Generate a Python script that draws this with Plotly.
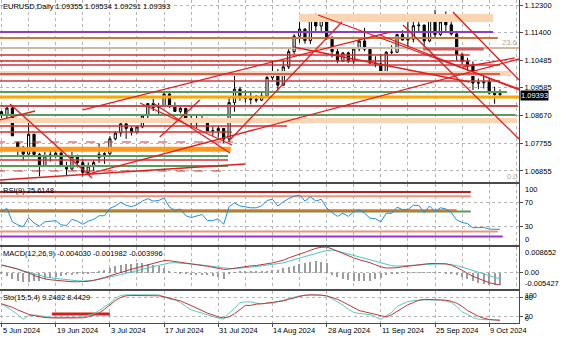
import plotly.graph_objects as go

W, H = 564, 338
FONT = "Liberation Sans"

# ---------------- price data (bar index 0 = 5 Jun 2024, last bar = 11 Oct 2024) ----------------
bar_start = -2
opens = [1.0848,1.0903,1.0880,1.0869,1.0892,1.0780,1.0764,1.0741,1.0806,1.0740,1.0703,1.0735,1.0738,1.0744,1.0700,1.0692,1.0733,1.0713,1.0681,1.0702,
         1.0730,1.0740,1.0742,1.0791,1.0810,1.0840,1.0825,1.0813,1.0830,1.0867,1.0907,1.0894,1.0900,1.0938,1.0898,1.0881,1.0891,1.0853,1.0844,1.0849,
         1.0857,1.0817,1.0818,1.0825,1.0790,1.0910,1.0954,1.0931,1.0923,1.0920,1.0918,1.0932,1.0992,1.1012,1.0967,1.1027,1.1077,1.1128,1.1151,1.1113,
         1.1192,1.1161,1.1184,1.1119,1.1077,1.1047,1.1073,1.1046,1.1086,1.1112,1.1085,1.1040,1.1037,1.1012,1.1075,1.1075,1.1133,1.1115,1.1118,1.1162,
         1.1164,1.1112,1.1180,1.1133,1.1175,1.1165,1.1135,1.1068,1.1045,1.1033,1.0974,1.0975,1.0978,1.0941,1.09355]
highs = [1.0905,1.0916,1.0883,1.0902,1.0900,1.0781,1.0767,1.0852,1.0808,1.0745,1.0748,1.0761,1.0752,1.0762,1.0716,1.0748,1.0739,1.0724,1.0714,1.0720,
         1.0776,1.0747,1.0800,1.0816,1.0845,1.0845,1.0831,1.0833,1.0871,1.0907,1.0922,1.0909,1.0948,1.0944,1.0911,1.0902,1.0892,1.0868,1.0869,1.0871,
         1.0860,1.0833,1.0833,1.0827,1.0926,1.1009,1.0962,1.0950,1.0948,1.0935,1.0945,1.1002,1.1047,1.1020,1.1049,1.1085,1.1134,1.1174,1.1154,1.1201,
         1.1202,1.1189,1.1188,1.1128,1.1087,1.1074,1.1077,1.1088,1.1120,1.1155,1.1086,1.1062,1.1070,1.1079,1.1098,1.1136,1.1147,1.1190,1.1179,1.1180,
         1.1166,1.1190,1.1214,1.1190,1.1209,1.1199,1.1145,1.1074,1.1057,1.1045,1.0989,1.0998,1.0988,1.0962,1.09534]
lows = [1.0845,1.0865,1.0857,1.0857,1.0800,1.0732,1.0720,1.0737,1.0732,1.0668,1.0702,1.0716,1.0729,1.0699,1.0671,1.0688,1.0697,1.0667,1.0677,1.0685,
        1.0712,1.0709,1.0736,1.0786,1.0798,1.0791,1.0802,1.0808,1.0826,1.0857,1.0882,1.0872,1.0896,1.0892,1.0880,1.0874,1.0842,1.0826,1.0825,1.0845,
        1.0816,1.0801,1.0795,1.0777,1.0779,1.0880,1.0916,1.0910,1.0904,1.0910,1.0915,1.0930,1.0982,1.0949,1.0964,1.1020,1.1069,1.1106,1.1103,1.1102,
        1.1139,1.1144,1.1117,1.1058,1.1039,1.1043,1.1040,1.1037,1.1078,1.1078,1.1036,1.1026,1.1002,1.1002,1.1068,1.1074,1.1114,1.1086,1.1107,1.1140,
        1.1083,1.1108,1.1122,1.1128,1.1143,1.1130,1.1047,1.1035,1.1002,1.0951,1.0954,1.0956,1.0936,1.0906,1.09291]
closes = [1.0903,1.0880,1.0869,1.0892,1.0801,1.0764,1.0741,1.0806,1.0740,1.0703,1.0735,1.0738,1.0744,1.0700,1.0692,1.0733,1.0713,1.0681,1.0702,1.0713,
          1.0740,1.0742,1.0791,1.0810,1.0840,1.0825,1.0813,1.0830,1.0867,1.0907,1.0894,1.0900,1.0938,1.0898,1.0881,1.0891,1.0853,1.0844,1.0849,1.0857,
          1.0817,1.0818,1.0825,1.0790,1.0910,1.0954,1.0931,1.0923,1.0920,1.0918,1.0932,1.0992,1.1012,1.0967,1.1027,1.1077,1.1128,1.1151,1.1113,1.1192,
          1.1161,1.1184,1.1119,1.1077,1.1047,1.1073,1.1046,1.1086,1.1112,1.1085,1.1040,1.1037,1.1012,1.1075,1.1075,1.1133,1.1115,1.1118,1.1162,1.1164,
          1.1112,1.1180,1.1133,1.1175,1.1165,1.1135,1.1068,1.1045,1.1033,1.0974,1.0975,1.0978,1.0941,1.0936,1.09393]
bars = list(range(bar_start, bar_start + len(closes)))

# ---------------- indicators (bar 0..92) ----------------
rsi = [55,60,38,33,30,45,36,31,38,39,40,33,32,42,39,34,39,42,48,48,
       60,64,70,65,63,66,72,76,72,73,77,62,57,59,48,45,47,50,40,40,
       43,34,63,69,64,62,61,61,64,73,75,64,71,76,80,82,72,79,72,75,
       61,53,47,52,47,54,58,52,44,43,38,52,52,62,58,58,65,65,53,64,
       55,61,59,53,41,37,35,28,28,29,26,25.2,25.6148]
macd_main = [0.00266,0.00222,0.00178,0.00122,0.00056,0.00000,-0.00090,-0.00160,-0.00205,-0.00233,-0.00255,-0.00266,-0.00289,-0.00300,-0.00300,-0.00300,-0.00285,-0.00255,-0.00215,-0.00160,
             -0.00100,-0.00040,0.00020,0.00070,0.00120,0.00170,0.00220,0.00280,0.00325,0.00370,0.00410,0.00405,0.00380,0.00360,0.00335,0.00310,0.00285,0.00255,0.00220,0.00185,
             0.00150,0.00115,0.00125,0.00155,0.00185,0.00215,0.00233,0.00244,0.00266,0.00289,0.00333,0.00377,0.00422,0.00500,0.00555,0.00611,0.00688,0.00755,0.00820,0.00855,
             0.008652,0.00800,0.00720,0.00640,0.00570,0.00500,0.00440,0.00395,0.00340,0.00270,0.00200,0.00160,0.00155,0.00170,0.00200,0.00222,0.00255,0.00278,0.00300,0.00311,
             0.00311,0.00311,0.00300,0.00260,0.00180,0.00090,-0.00020,-0.00120,-0.00190,-0.00270,-0.00330,-0.00375,-0.004030]
macd_signal = [0.00255,0.00222,0.00178,0.00133,0.00067,0.00011,-0.00044,-0.00089,-0.00133,-0.00167,-0.00189,-0.00222,-0.00244,-0.00255,-0.00266,-0.00278,-0.00272,-0.00250,-0.00220,-0.00185,
               -0.00145,-0.00105,-0.00060,-0.00015,0.00035,0.00085,0.00130,0.00170,0.00210,0.00250,0.00295,0.00330,0.00340,0.00330,0.00315,0.00300,0.00280,0.00260,0.00235,0.00210,
               0.00185,0.00155,0.00145,0.00145,0.00155,0.00167,0.00189,0.00211,0.00233,0.00255,0.00289,0.00311,0.00333,0.00389,0.00444,0.00488,0.00544,0.00600,0.00644,0.00700,
               0.00744,0.00766,0.00730,0.00680,0.00630,0.00580,0.00520,0.00470,0.00420,0.00370,0.00320,0.00270,0.00240,0.00225,0.00230,0.00240,0.00250,0.00260,0.00280,0.00295,
               0.00300,0.00300,0.00300,0.00280,0.00240,0.00190,0.00130,0.00070,0.00010,-0.00040,-0.00100,-0.00150,-0.001982]
macd_hist = [-0.00033,-0.00111,-0.00200,-0.00266,-0.00311,-0.00311,-0.00289,-0.00266,-0.00222,-0.00178,-0.00133,-0.00111,-0.00089,-0.00067,-0.00044,-0.00033,-0.00011,0.00022,0.00056,0.00111,
             0.00155,0.00222,0.00266,0.00300,0.00311,0.00333,0.00333,0.00311,0.00278,0.00222,0.00155,0.00067,0.00022,-0.00022,-0.00056,-0.00067,-0.00067,-0.00078,-0.00089,-0.00111,
             -0.00144,-0.00200,-0.00022,0.00022,0.00033,0.00033,0.00033,0.00044,0.00056,0.00067,0.00089,0.00111,0.00155,0.00200,0.00244,0.00289,0.00333,0.00377,0.00400,0.00377,
             0.00333,-0.00089,-0.00155,-0.00200,-0.00244,-0.00278,-0.00289,-0.00289,-0.00266,-0.00222,-0.00167,-0.00089,-0.00044,-0.00022,0.00005,0.00011,0.00022,0.00022,0.00022,0.00011,
             0.00005,-0.00005,-0.00011,-0.00033,-0.00089,-0.00155,-0.00222,-0.00289,-0.00333,-0.00377,-0.00405,-0.00420,-0.003996]
sto_main = [60,50,39,26,12,23,25,23,20,17,16,16,16,16,18,21,24,28,39,50,
            62,77,86,88,88,88,88,88,88,88,82,75,72,64,52,41,36,31,25,19,
            15,12,31,46,64,66,66,62,60,62,62,67,72,76,80,85,86,88,88,87,
            84,76,66,56,43,33,30,29,26,19,11,23,33,52,60,67,70,72,72,72,
            72,72,69,64,52,35,27,17,12,10,10,9.6,9.2482]
sto_signal = [60,55,49,41,33,27,23,19,17,16,16,15,14,14,15,16,19,24,31,43,
              57,70,80,85,86,86,86,86,86,85,82,78,74,69,62,55,46,39,31,24,
              19,16,19,29,43,55,55,59,60,62,64,66,69,74,79,84,87,88,88,87,
              85,80,74,66,57,46,39,35,31,27,23,19,26,36,46,57,64,71,74,74,
              73,72,71,68,62,52,39,29,21,15,11,9.5,8.4429]
ind_bars = list(range(0, len(rsi)))

# ---------------- drawn objects ----------------
# horizontal levels: price, start bar, end bar
h_levels = [
    (1.11414, -1, 90.7), (1.11218, -1, 91.6), (1.10890, -1, 97), (1.10857, 77.8, 89.0),
    (1.10660, -1, 86.4), (1.10463, -1, 86.4), (1.10332, -1, 92.0), (1.10037, -1, 92.0),
    (1.09807, -1, 92.0), (1.09446, -1, 93.3), (1.09282, -1, 97), (1.08987, -1, 95.3),
    (1.08692, -1, 94.9), (1.08331, -1, 52.7), (1.08134, -1, 42.5), (1.07806, -1, 42.7),
    (1.07347, -1, 41.8), (1.07216, -1, 41.8), (1.07019, -1, 41.8), (1.06855, -1, 40.7),
]
h_styles = [
    ("#8B3FC8", 2, "solid"), ("#C8783C", 2, "solid"), ("#CDB9A0", 2, "solid"), ("#CD5C5C", 3, "solid"),
    ("#D03030", 1.5, "solid"), ("#D03030", 1.5, "solid"), ("#D03030", 1.5, "solid"), ("#D03030", 1.5, "solid"),
    ("#C04040", 1.5, "solid"), ("#5A9A5A", 2, "solid"), ("#FFA500", 3, "solid"), ("#C85050", 2, "solid"),
    ("#5A9A5A", 2, "solid"), ("#D03030", 1.5, "solid"), ("#D03030", 1.5, "solid"), ("#D03030", 1, "dash"),
    ("#5A9A5A", 2, "solid"), ("#D03030", 1.5, "solid"), ("#5A9A5A", 2, "solid"), ("#D03030", 1, "dash"),
]
# zones: top price, bottom price, start bar, end bar
zones = [(1.12005, 1.11742, 54.9, 90.7), (1.10135, 1.09971, -1, 94.0),
         (1.08594, 1.08430, -1, 95.1), (1.07650, 1.07490, -1, 42.3)]
zone_colors = ["#F9D5B4", "#F9D5B4", "#F9D5B4", "#FF9A1A"]
# trend lines: bar0, price0, bar1, price1
trends = [
    (1.57, 1.09053, 16.70, 1.06626), (-0.28, 1.06560, 44.93, 1.07085), (15.41, 1.06724, 95.5, 1.10529),
    (15.04, 1.08856, 71.7, 1.11414), (25.55, 1.09086, 42.53, 1.07708), (27.95, 1.09086, 42.16, 1.07446),
    (41.79, 1.07806, 62.82, 1.11742), (58.4, 1.11972, 95.5, 1.09545), (53.8, 1.10922, 86.4, 1.09774),
    (74.1, 1.11644, 95.5, 1.07905), (83.3, 1.12070, 95.5, 1.09840), (69.8, 1.11316, 95.5, 1.09512),
    (85.1, 1.10266, 94.7, 1.10562), (-0.28, 1.08528, 6.2, 1.08823), (36.6, 1.09184, 29.2, 1.07970),
]
rsi_levels = [(87, -1, 86.6), (80, -1, 86.6), (55, -1, 86.6), (57, -1, 84.0), (22, -1, 91.6), (14, -1, 92.5)]
rsi_level_colors = ["#B22222", "#E9967A", "#5A9A5A", "#D2782D", "#E9967A", "#9932CC"]
sto_segment = (28, 9.3, 20.0)

price_ticks = [1.12300, 1.11400, 1.10485, 1.09585, 1.08670, 1.07755, 1.06855]
date_labels = ["5 Jun 2024", "19 Jun 2024", "3 Jul 2024", "17 Jul 2024", "31 Jul 2024",
               "14 Aug 2024", "28 Aug 2024", "11 Sep 2024", "25 Sep 2024", "9 Oct 2024"]
date_bars = [0, 10, 20, 30, 40, 50, 60, 70, 80, 90]

# ---------------- figure ----------------
fig = go.Figure()

for (top, bot, s, e), col in zip(zones, zone_colors):
    fig.add_trace(go.Scatter(x=[s, e, e, s, s], y=[top, top, bot, bot, top], mode="lines",
                             fill="toself", fillcolor=col, line=dict(width=0),
                             xaxis="x", yaxis="y", hoverinfo="skip", showlegend=False))

fig.add_trace(go.Candlestick(
    x=bars, open=opens, high=highs, low=lows, close=closes,
    increasing=dict(line=dict(color="black", width=1), fillcolor="white"),
    decreasing=dict(line=dict(color="black", width=1), fillcolor="black"),
    whiskerwidth=0, xaxis="x", yaxis="y", showlegend=False))

for (p, s, e), (col, w, d) in zip(h_levels, h_styles):
    fig.add_trace(go.Scatter(x=[s, e], y=[p, p], mode="lines", line=dict(color=col, width=w, dash=d),
                             xaxis="x", yaxis="y", hoverinfo="skip", showlegend=False))

for (b0, p0, b1, p1) in trends:
    fig.add_trace(go.Scatter(x=[b0, b1], y=[p0, p1], mode="lines", line=dict(color="#E01E1E", width=1.3),
                             xaxis="x", yaxis="y", hoverinfo="skip", showlegend=False))

# RSI pane
for (v, s, e), col in zip(rsi_levels, rsi_level_colors):
    fig.add_trace(go.Scatter(x=[s, e], y=[v, v], mode="lines", line=dict(color=col, width=2),
                             xaxis="x2", yaxis="y2", hoverinfo="skip", showlegend=False))
fig.add_trace(go.Scatter(x=ind_bars, y=rsi, mode="lines", line=dict(color="#1E8FE0", width=1),
                         xaxis="x2", yaxis="y2", showlegend=False))

# MACD pane
fig.add_trace(go.Bar(x=ind_bars, y=macd_hist, marker=dict(color="#9C9C9C", line=dict(width=0)), width=0.22,
                     xaxis="x3", yaxis="y3", showlegend=False))
fig.add_trace(go.Scatter(x=ind_bars, y=macd_signal, mode="lines", line=dict(color="#4CC4C4", width=1),
                         xaxis="x3", yaxis="y3", showlegend=False))
fig.add_trace(go.Scatter(x=ind_bars, y=macd_main, mode="lines", line=dict(color="#B83A3A", width=1),
                         xaxis="x3", yaxis="y3", showlegend=False))

# Stochastic pane
fig.add_trace(go.Scatter(x=[sto_segment[1], sto_segment[2]], y=[sto_segment[0], sto_segment[0]], mode="lines",
                         line=dict(color="#D02020", width=3), xaxis="x4", yaxis="y4", showlegend=False))
fig.add_trace(go.Scatter(x=ind_bars, y=sto_main, mode="lines", line=dict(color="#66C8B8", width=1),
                         xaxis="x4", yaxis="y4", showlegend=False))
fig.add_trace(go.Scatter(x=ind_bars, y=sto_signal, mode="lines", line=dict(color="#B83A3A", width=1),
                         xaxis="x4", yaxis="y4", showlegend=False))

# ---------------- layout ----------------
XR = [-0.28, 95.5]
xdom = [0, 519 / W]
def pdom(top_px, bot_px):
    return [1 - bot_px / H, 1 - top_px / H]

grid = dict(showgrid=True, gridcolor="#B4B4B4", griddash="dot", gridwidth=1)
frame = dict(showline=True, mirror=True, linecolor="#4A4A4A", linewidth=1, zeroline=False)
tfont = dict(family=FONT, size=7.5, color="black")

def xax(anchor, **kw):
    d = dict(domain=xdom, range=XR, anchor=anchor, tick0=0, dtick=5, showticklabels=False,
             ticks="", **grid, **frame)
    d.update(kw)
    return d

def yax(dom, rng, tv, tt, anchor):
    return dict(domain=dom, range=rng, side="right", anchor=anchor, tickmode="array", tickvals=tv,
                ticktext=tt, ticks="outside", ticklen=3, tickcolor="#4A4A4A", tickfont=tfont,
                **grid, **frame)

fig.update_layout(
    width=W, height=H, margin=dict(l=0, r=0, t=0, b=0),
    paper_bgcolor="white", plot_bgcolor="white", showlegend=False, boxgap=0.42, bargap=0,
    font=dict(family=FONT, size=7.5, color="black"),
    xaxis=xax("y", rangeslider=dict(visible=False)),
    xaxis2=xax("y2", matches="x"),
    xaxis3=xax("y3", matches="x"),
    xaxis4=xax("y4", matches="x", tickmode="array", tickvals=date_bars, ticks="outside",
               ticklen=3, tickcolor="#4A4A4A"),
    yaxis=yax(pdom(0, 182), [1.06494, 1.12464], price_ticks, [f"{v:.5f}" for v in price_ticks], "x"),
    yaxis2=yax(pdom(184, 245), [0, 100], [70, 30], ["70", "30"], "x2"),
    yaxis3=yax(pdom(247, 289), [-0.005427, 0.008652], [0], ["0.00"], "x3"),
    yaxis4=yax(pdom(291, 323), [0, 100], [80, 20], ["80", "20"], "x4"),
)

ann = []
def label(x, y, text, xref="paper", yref="paper", xa="left", ya="top", **kw):
    d = dict(x=x, y=y, xref=xref, yref=yref, text=text, showarrow=False, xanchor=xa, yanchor=ya,
             font=dict(family=FONT, size=kw.pop("size", 7.5), color=kw.pop("color", "black")), borderpad=0)
    d.update(kw)
    ann.append(d)

label(2 / W, 1 - 1 / H, f"EURUSD,Daily {opens[-1]:.5f} {highs[-1]:.5f} {lows[-1]:.5f} {closes[-1]:.5f}")
label(2 / W, 1 - 185 / H, f"RSI(9) {rsi[-1]:.4f}")
label(2 / W, 1 - 248 / H, f"MACD(12,26,9) {macd_main[-1]:.6f} {macd_signal[-1]:.6f} {macd_hist[-1]:.6f}")
label(2 / W, 1 - 292 / H, f"Sto(15,5,4) {sto_main[-1]:.4f} {sto_signal[-1]:.4f}")

RX = 524 / W
label(RX, 100, "100", yref="y2", ya="top")
label(RX, 0, "0", yref="y2", ya="bottom")
label(RX, 0.008652, "0.008652", yref="y3", ya="top")
label(RX, -0.005427, "-0.005427", yref="y3", ya="bottom")
label(RX, 100, "100", yref="y4", ya="top", size=7)
label(RX, 0, "0", yref="y4", ya="bottom", size=7)
label(520 / W, closes[-1], f"{closes[-1]:.5f}", yref="y", ya="middle", bgcolor="black", color="white",
      yshift=-2)
label(95.3, 1.10890, "23.6", xref="x", yref="y", xa="right", ya="bottom", color="#B8A48C")
label(95.3, 1.06494, "0.0", xref="x", yref="y", xa="right", ya="bottom", color="#B8A48C")

for b, t in zip(date_bars, date_labels):
    label(b, 1 - 325 / H, t, xref="x4", ya="top")

fig.update_layout(annotations=ann)
fig.write_html("out.html")
